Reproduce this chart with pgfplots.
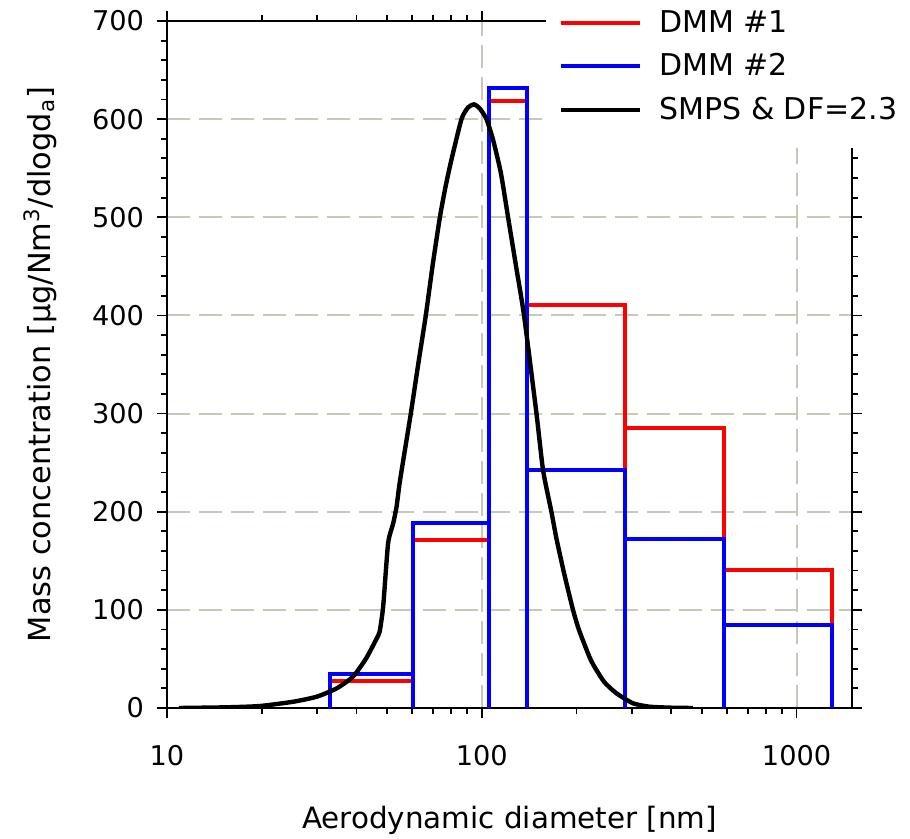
\documentclass[border=0pt]{standalone}
\usepackage{fontspec}
\setmainfont{DejaVu Sans}
\usepackage{pgfplots}
\pgfplotsset{compat=1.18}
\definecolor{gridc}{RGB}{200,200,185}
\begin{document}
\begin{tikzpicture}
\begin{axis}[
 name=ax,
 scale only axis, width=342.5pt, height=343.5pt,
 xmode=log, xmin=10, xmax=1500, ymin=0, ymax=700,
 xtick={10,100,1000}, xticklabels={10,100,1000},
 ytick={0,100,...,700}, minor y tick num=4,
 tick align=outside, major tick length=5pt, minor tick length=3pt,
 every tick/.style={black, line width=0.9pt},
 axis line style={line width=1pt},
 grid=major, major grid style={gridc, line width=1pt, dash pattern=on 11.5pt off 4.5pt},
 tick label style={font=\fontsize{13.6}{16}\selectfont},
 /pgf/number format/assume math mode=true,
 xticklabel style={yshift=-10pt},
 yticklabel style={xshift=-3pt},
 xlabel={Aerodynamic diameter [nm]},
 ylabel={Mass concentration [µg/Nm\textsuperscript{3}/dlogd\textsubscript{a}]},
 xlabel style={font=\fontsize{14.7}{17}\selectfont, at={(axis description cs:0.5,-0.163)}, anchor=center},
 ylabel style={font=\fontsize{15.2}{18}\selectfont, at={(axis description cs:-0.185,0.5)}, anchor=center},
 legend style={at={(axis description cs:0.552,1.0524)}, anchor=north west, fill=white, draw=none,
   font=\fontsize{15}{18}\selectfont, inner xsep=6.5pt, inner ysep=10.4pt, row sep=5.3pt},
 legend cell align=left,
 legend image code/.code={\draw[#1] (0pt,0pt) -- (39.5pt,0pt); \path (46.25pt,0pt);},
]
\addplot[red, line width=2pt] coordinates {(32.9,0)(32.9,28)(60.4,28)(60.4,0)(60.4,171)(105.2,171)(105.2,0)(105.2,618)(139,618)(139,0)(139,411)(284.4,411)(284.4,0)(284.4,285)(590,285)(590,0)(590,141)(1300,141)(1300,0)};
\addlegendentry{DMM \#1}
\addplot[blue, line width=2pt] coordinates {(32.9,0)(32.9,35)(60.4,35)(60.4,0)(60.4,188)(105.2,188)(105.2,0)(105.2,632)(139,632)(139,0)(139,242)(284.4,242)(284.4,0)(284.4,172)(590,172)(590,0)(590,85)(1300,85)(1300,0)};
\addlegendentry{DMM \#2}
\addplot[black, line width=2.2pt, smooth, tension=0.35] coordinates {(10.9,0)(15.5,0.7)(19.7,2)(25.2,6.4)(29.9,11.5)(34.6,20)(39.0,32)(43.0,51)(46.9,74)(47.4,78)(48.6,103)(50.4,168)(52.3,188)(53.6,205)(55.0,232)(59.5,300)(62.8,350)(66.4,400)(69.8,451)(73.6,500)(76.7,531)(80.0,558)(86.2,600)(90.5,612)(94.5,615)(98.5,611)(103.5,600)(108.6,579)(115,545)(121.2,500)(128.5,450)(136.2,400)(149.2,300)(156.6,242)(166.4,200)(172.7,172.5)(183,136)(194.9,100)(203.6,79.5)(220,51.7)(228,42)(245,26.4)(267.7,15)(302.1,4.8)(341.5,1.3)(400,0.3)(468.7,0)};
\addlegendentry{SMPS \& DF=2.3}
\end{axis}
\pgfresetboundingbox
\path ([xshift=-83.5pt,yshift=-65.5pt]ax.south west) rectangle ([xshift=29pt,yshift=10.5pt]ax.north east);
\end{tikzpicture}
\end{document}
